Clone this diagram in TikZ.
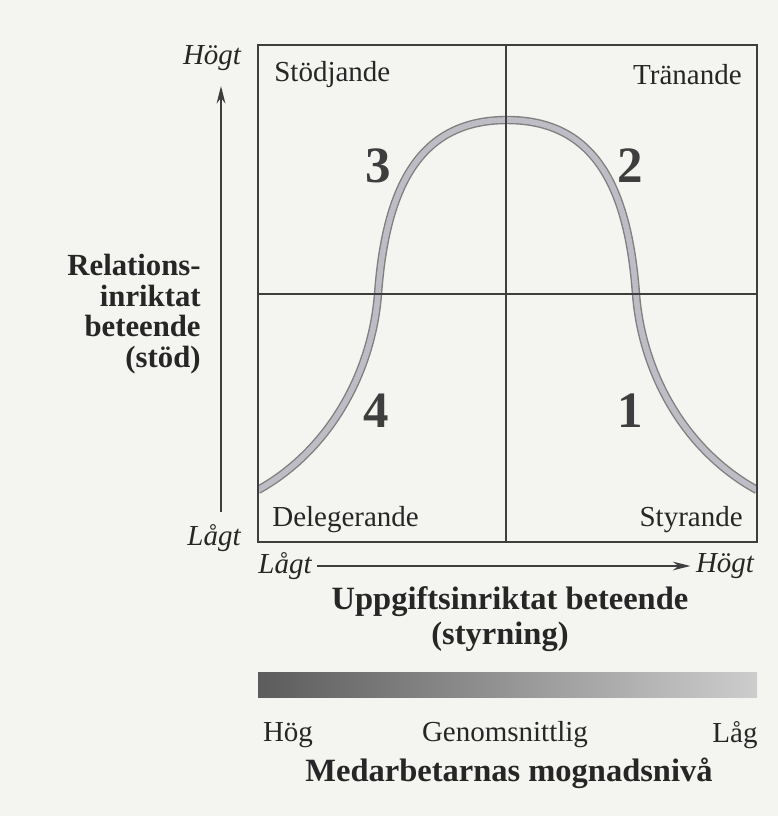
\documentclass[tikz,border=0pt]{standalone}
\usepackage{fontspec}
\setmainfont{Liberation Serif}
\usetikzlibrary{arrows.meta, positioning, calc}
\definecolor{paper}{RGB}{244,244,240}
\definecolor{inkgray}{RGB}{62,62,62}
\definecolor{bellgray}{RGB}{190,188,196}
\definecolor{barleft}{RGB}{92,92,92}
\definecolor{barright}{RGB}{205,205,205}

\begin{document}
\begin{tikzpicture}[x=0.02cm, y=-0.02cm,
    every node/.style={font=\fontsize{16.5}{18}\selectfont, inner sep=0pt, text=black!85},
    axislbl/.style={font=\fontsize{16.5}{18}\selectfont\itshape},
    titlelbl/.style={font=\fontsize{18.5}{15.6}\selectfont\bfseries},
    sidelbl/.style={font=\fontsize{17.5}{17.5}\selectfont\bfseries},
    quadnum/.style={font=\fontsize{29}{29}\selectfont\bfseries, text=inkgray},
    axisarrow/.style={draw=inkgray, line width=0.8pt, -{Stealth[length=10pt, width=5pt]}},
    bellcurve/.style={draw=black!50, line width=0.8pt, double=bellgray, double distance=3.2pt}]

  % page
  \fill[paper] (0,0) rectangle (778,816);
  \useasboundingbox (0,0) rectangle (778,816);

  % bell curve, clipped to the grid
  \begin{scope}
    \clip (258,45) rectangle (757,542);
    \draw[bellcurve] (258,490) .. controls (330,450) and (372,372) .. (378,294)
      .. controls (386,186) and (420,120) .. (507,120)
      .. controls (594,120) and (628,186) .. (636,294)
      .. controls (642,372) and (684,450) .. (757,490);
  \end{scope}

  % grid
  \draw[inkgray, line width=0.9pt] (506,45) -- (506,542) (258,294) -- (757,294);
  \draw[inkgray, line width=1.3pt] (258,45) rectangle (757,542);

  % quadrant numbers
  \foreach \nm/\x/\y in {3/378/166, 2/630/166, 4/376/411, 1/630/411}{
    \node[quadnum] (q\nm) at (\x,\y) {\nm};
  }

  % corner labels
  \node[anchor=west] (stod) at (274,75) {Stödjande};
  \node[anchor=east] (tran) at (742,75) {Tränande};
  \node[anchor=west] (dele) at (272,520) {Delegerande};
  \node[anchor=east] (styr) at (743,520) {Styrande};

  % vertical axis
  \node[axislbl] (yhi) at (212,58) {Högt};
  \node[axislbl] (ylo) at (214,538) {Lågt};
  \coordinate (ybot) at (221,512);
  \coordinate (ytop) at (221,86);
  \draw[axisarrow] (ybot) -- (ytop);
  \node[sidelbl, align=right, anchor=east] (ytitle) at (201,314)
    {Relations-\\inriktat\\beteende\\(stöd)};

  % horizontal axis
  \node[axislbl] (xlo) at (285,566) {Lågt};
  \node[axislbl] (xhi) at (725,566) {Högt};
  \draw[axisarrow] ([xshift=3pt]xlo.east) -- ([xshift=-3pt]xhi.west);
  \node[titlelbl] (xtitle) at (510,602) {Uppgiftsinriktat beteende};
  \node[titlelbl] (xsub) at (500,637) {(styrning)};

  % maturity bar
  \shade[left color=barleft, right color=barright] (258,672) rectangle (757,697);
  \node (hog) at (288,735) {Hög};
  \node (mid) at (505,735) {Genomsnittlig};
  \node (lag) at (735,735) {Låg};
  \node[titlelbl] (mtitle) at (509,773) {Medarbetarnas mognadsnivå};
\end{tikzpicture}
\end{document}
